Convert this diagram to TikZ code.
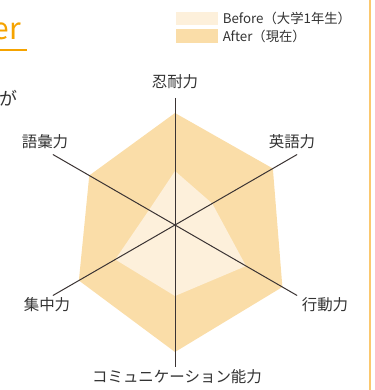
\documentclass[tikz,border=0pt]{standalone}
\usepackage{fontspec}
\setmainfont{Noto Sans CJK JP}
\usepackage{tikz}
\usetikzlibrary{positioning,calc}

\definecolor{aftercol}{HTML}{FADDA8}
\definecolor{beforecol}{HTML}{FDF0DB}
\definecolor{axiscol}{HTML}{3A3333}
\definecolor{accent}{HTML}{F5A300}
\definecolor{frameline}{HTML}{FBC86E}
\definecolor{labelcol}{HTML}{333333}

\tikzset{
  axis/.style={draw=axiscol, line width=0.75pt},
  axlabel/.style={text=labelcol, font=\fontsize{11.6}{13}\selectfont, inner sep=0pt},
  legtext/.style={text=labelcol, font=\fontsize{10}{12}\selectfont, inner sep=0pt, anchor=west},
  swatch/.style={minimum width=31.5pt, minimum height=10pt, inner sep=0pt}
}

\begin{document}
\begin{tikzpicture}[x=0.75pt,y=0.75pt]
  \useasboundingbox (0,0) rectangle (375,390);

  % page decoration
  \draw[frameline, line width=1.2pt] (369.7,0) -- (369.7,390);
  \node[text=accent, font=\fontsize{22.5}{24}\selectfont, anchor=base east, inner sep=0pt] (title) at (21.5,350) {er};
  \draw[accent, line width=0.8pt] (0,340) -- (27,340);
  \node[text=labelcol, font=\fontsize{13.5}{15}\selectfont, inner sep=0pt] (ga) at (8.5,292) {が};

  % legend
  \node[swatch, fill=beforecol] (sbefore) at (197,371.6) {};
  \node[swatch, fill=aftercol] (safter) at (197,354) {};
  \node[legtext] (lbefore) at (222.5,372) {Before（大学1年生）};
  \node[legtext] (lafter) at (222.5,354) {After（現在）};

  % chart centre and axis ends
  \coordinate (c) at (175,165);
  \coordinate (e1) at ($(c)+(90:127)$);  % 忍耐力
  \coordinate (e2) at ($(c)+(30:141)$);  % 英語力
  \coordinate (e3) at ($(c)+(-30:141)$); % 行動力
  \coordinate (e4) at ($(c)+(-90:142)$); % コミュニケーション能力
  \coordinate (e5) at ($(c)+(210:141)$); % 集中力
  \coordinate (e6) at ($(c)+(150:141)$); % 語彙力

  % After (now)
  \fill[aftercol] ($(c)+(90:112)$) -- ($(c)+(30:113)$) -- ($(c)+(-30:124)$)
    -- ($(c)+(-90:127)$) -- ($(c)+(210:111)$) -- ($(c)+(150:99)$) -- cycle;
  % Before (1st year)
  \fill[beforecol] ($(c)+(90:54)$) -- ($(c)+(30:43)$) -- ($(c)+(-30:82)$)
    -- ($(c)+(-90:71)$) -- ($(c)+(210:69)$) -- ($(c)+(150:30)$) -- cycle;

  \draw[axis] (e1) -- (e4);
  \draw[axis] (e2) -- (e5);
  \draw[axis] (e6) -- (e3);

  % axis labels
  \node[axlabel] (l1) at (175,308) {忍耐力};
  \node[axlabel] (l2) at (292,248) {英語力};
  \node[axlabel] (l3) at (325,85) {行動力};
  \node[axlabel] (l4) at (177,13) {コミュニケーション能力};
  \node[axlabel] (l5) at (47,85) {集中力};
  \node[axlabel] (l6) at (45,248) {語彙力};
\end{tikzpicture}
\end{document}
